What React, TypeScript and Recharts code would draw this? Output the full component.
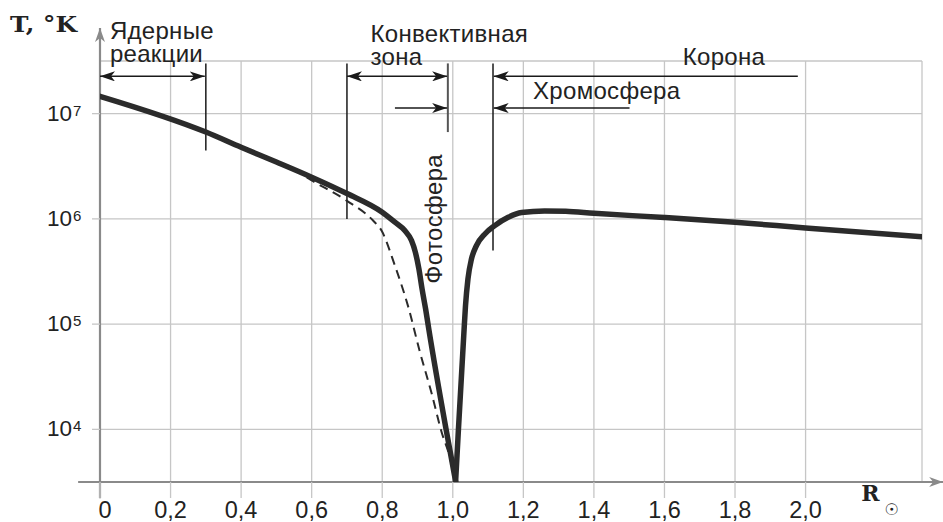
import React from "react";
import {
    LineChart,
    Line,
    XAxis,
    YAxis,
    CartesianGrid,
    ReferenceLine,
    ReferenceDot,
} from "recharts";

// temperature of the Sun (K) against distance from centre (solar radii)
const coreProfile = [
    { r: 0, t: 1.46e7 },
    { r: 0.3, t: 6.68e6 },
    { r: 0.4, t: 4.79e6 },
    { r: 0.5, t: 3.47e6 },
    { r: 0.6, t: 2.49e6 },
    { r: 0.7, t: 1.74e6 },
    { r: 0.8, t: 1.156e6 },
    { r: 0.836, t: 9.29e5 },
    { r: 0.864, t: 7.74e5 },
    { r: 0.883, t: 6.22e5 },
    { r: 0.894, t: 4.81e5 },
    { r: 0.904, t: 3.34e5 },
    { r: 0.913, t: 2.15e5 },
    { r: 0.923, t: 1.39e5 },
    { r: 0.932, t: 8.96e4 },
    { r: 0.981, t: 1.0e4 },
    { r: 1.008, t: 3.2e3 },
];

const atmosphereProfile = [
    { r: 1.008, t: 3.2e3 },
    { r: 1.016, t: 1.0e4 },
    { r: 1.031, t: 7.74e4 },
    { r: 1.036, t: 1.49e5 },
    { r: 1.043, t: 2.69e5 },
    { r: 1.053, t: 4.16e5 },
    { r: 1.067, t: 5.57e5 },
    { r: 1.091, t: 7.19e5 },
    { r: 1.119, t: 8.63e5 },
    { r: 1.157, t: 1.035e6 },
    { r: 1.195, t: 1.15e6 },
    { r: 1.26, t: 1.19e6 },
    { r: 1.32, t: 1.18e6 },
    { r: 1.4, t: 1.13e6 },
    { r: 1.6, t: 1.03e6 },
    { r: 1.8, t: 9.29e5 },
    { r: 2.0, t: 8.2e5 },
    { r: 2.33, t: 6.76e5 },
];

// alternative model (dashed)
const modelProfile = [
    { r: 0.55, t: 2.95e6 },
    { r: 0.6, t: 2.32e6 },
    { r: 0.699, t: 1.49e6 },
    { r: 0.774, t: 9.64e5 },
    { r: 0.798, t: 7.74e5 },
    { r: 0.836, t: 3.59e5 },
    { r: 0.873, t: 1.49e5 },
    { r: 0.907, t: 5.4e4 },
    { r: 0.94, t: 2.2e4 },
    { r: 0.968, t: 9.5e3 },
    { r: 0.992, t: 5.37e3 },
    { r: 1.006, t: 3.3e3 },
];

const xTicks = [0, 0.2, 0.4, 0.6, 0.8, 1.0, 1.2, 1.4, 1.6, 1.8, 2.0];
const yTicks = [1e4, 1e5, 1e6, 1e7];

// zone boundaries
const boundaries = [
    { r: 0.3, from: 4.47e6, to: 3.0e7, color: "#1a1a1a", width: 1.5 },
    { r: 0.7, from: 1.0e6, to: 3.0e7, color: "#1a1a1a", width: 1.5 },
    { r: 0.986, from: 6.68e6, to: 3.0e7, color: "#555", width: 2 },
    { r: 1.114, from: 5.0e5, to: 3.0e7, color: "#1a1a1a", width: 1.5 },
];

const zoneArrows = [
    { from: 0, to: 0.297, t: 2.26e7, both: true },
    { from: 0.7, to: 0.984, t: 2.26e7, both: true },
    { from: 0.836, to: 0.984, t: 1.13e7, both: false },
    { from: 1.978, to: 1.116, t: 2.26e7, both: false },
    { from: 1.501, to: 1.116, t: 1.13e7, both: false },
];

const zoneLabels = [
    { lines: ["Ядерные", "реакции"], r: 0.028, t: 5.15e7 },
    { lines: ["Конвективная", "зона"], r: 0.767, t: 4.81e7 },
    { lines: ["Корона"], r: 1.652, t: 2.88e7 },
    { lines: ["Хромосфера"], r: 1.2275, t: 1.37e7 },
];

const SANS = "'Liberation Sans', Arial, sans-serif";
const SERIF = "'DejaVu Serif', serif";
const INK = "#222";

function PowerTick({ x, y, payload }: any) {
    const exp = Math.round(Math.log10(payload.value));
    return (
        <g>
            <text x={x - 20} y={y + 7} textAnchor="end" fontSize={22.5} fill={INK} fontFamily={SANS}>
                10
            </text>
            <text x={x - 19} y={y + 2} fontSize={15} fill={INK} fontFamily={SANS}>
                {exp}
            </text>
        </g>
    );
}

function RadiusTick({ x, y, payload }: any) {
    const label = payload.value === 0 ? "0" : payload.value.toFixed(1).replace(".", ",");
    return (
        <text x={payload.value === 0 ? x + 5 : x} y={y + 20} textAnchor="middle" fontSize={23.5} fill={INK} fontFamily={SANS}>
            {label}
        </text>
    );
}

export default function App() {
    return (
        <div style={{ position: "absolute", left: 0, top: 0, width: 943, height: 522, background: "#fff" }}>
            <svg width={0} height={0} style={{ position: "absolute" }}>
                <defs>
                    <marker
                        id="tip"
                        viewBox="0 0 15 10"
                        refX={15}
                        refY={5}
                        markerWidth={15}
                        markerHeight={10}
                        markerUnits="userSpaceOnUse"
                        orient="auto-start-reverse"
                    >
                        <path d="M0,0 L15,5 L0,10 L4,5 Z" fill="#1a1a1a" />
                    </marker>
                    <marker
                        id="axisTip"
                        viewBox="0 0 14 10"
                        refX={14}
                        refY={5}
                        markerWidth={14}
                        markerHeight={10}
                        markerUnits="userSpaceOnUse"
                        orient="auto"
                    >
                        <path d="M0,0 L14,5 L0,10 L4,5 Z" fill="#8a8a8a" />
                    </marker>
                </defs>
            </svg>
            <LineChart width={943} height={522} margin={{ top: 61, right: 21, bottom: 0, left: 40 }}>
                <CartesianGrid stroke="#c6c6c6" strokeWidth={1.3} />
                <XAxis
                    type="number"
                    dataKey="r"
                    domain={[0, 2.33]}
                    allowDataOverflow
                    ticks={xTicks}
                    height={40}
                    axisLine={false}
                    tickSize={16}
                    tickMargin={0}
                    tickLine={{ stroke: "#c6c6c6", strokeWidth: 1.3 }}
                    tick={<RadiusTick />}
                    interval={0}
                />
                <YAxis
                    type="number"
                    dataKey="t"
                    scale="log"
                    domain={[3162.28, 31622777]}
                    allowDataOverflow
                    ticks={yTicks}
                    width={60}
                    axisLine={false}
                    tickSize={8}
                    tickMargin={0}
                    tickLine={{ stroke: "#c6c6c6", strokeWidth: 1.3 }}
                    tick={<PowerTick />}
                    interval={0}
                />

                {/* axes with arrowheads */}
                <ReferenceLine
                    ifOverflow="visible"
                    segment={[{ x: -0.062, y: 3162.28 }, { x: 2.39, y: 3162.28 }]}
                    shape={(p: any) => (
                        <line x1={p.x1} y1={p.y1} x2={p.x2} y2={p.y2} stroke="#8a8a8a" strokeWidth={2.2} markerEnd="url(#axisTip)" />
                    )}
                />
                <ReferenceLine
                    ifOverflow="visible"
                    segment={[{ x: 0, y: 2220 }, { x: 0, y: 6.5e7 }]}
                    shape={(p: any) => (
                        <line x1={p.x1} y1={p.y1} x2={p.x2} y2={p.y2} stroke="#8a8a8a" strokeWidth={2.2} markerEnd="url(#axisTip)" />
                    )}
                />

                {boundaries.map((b, i) => (
                    <ReferenceLine
                        key={"b" + i}
                        ifOverflow="visible"
                        segment={[{ x: b.r, y: b.from }, { x: b.r, y: b.to }]}
                        stroke={b.color}
                        strokeWidth={b.width}
                    />
                ))}
                {zoneArrows.map((a, i) => (
                    <ReferenceLine
                        key={"a" + i}
                        ifOverflow="visible"
                        segment={[{ x: a.from, y: a.t }, { x: a.to, y: a.t }]}
                        shape={(p: any) => (
                            <line
                                x1={p.x1}
                                y1={p.y1}
                                x2={p.x2}
                                y2={p.y2}
                                stroke="#1a1a1a"
                                strokeWidth={1.5}
                                markerEnd="url(#tip)"
                                markerStart={a.both ? "url(#tip)" : undefined}
                            />
                        )}
                    />
                ))}

                <Line
                    data={modelProfile}
                    dataKey="t"
                    type="monotone"
                    stroke="#2b2b2b"
                    strokeWidth={2}
                    strokeDasharray="9 6"
                    dot={false}
                    activeDot={false}
                    isAnimationActive={false}
                />
                <Line
                    data={coreProfile}
                    dataKey="t"
                    type="monotone"
                    stroke="#2b2b2b"
                    strokeWidth={5.5}
                    strokeLinecap="round"
                    dot={false}
                    activeDot={false}
                    isAnimationActive={false}
                />
                <Line
                    data={atmosphereProfile}
                    dataKey="t"
                    type="monotone"
                    stroke="#2b2b2b"
                    strokeWidth={5.5}
                    strokeLinecap="round"
                    dot={false}
                    activeDot={false}
                    isAnimationActive={false}
                />

                {zoneLabels.map((l, i) => (
                    <ReferenceDot
                        key={"l" + i}
                        x={l.r}
                        y={l.t}
                        ifOverflow="visible"
                        shape={(p: any) => (
                            <text x={p.cx} y={p.cy} fontSize={24} letterSpacing={0.3} fill={INK} fontFamily={SANS}>
                                {l.lines.map((s, j) => (
                                    <tspan key={j} x={p.cx} dy={j === 0 ? 0 : 23}>
                                        {s}
                                    </tspan>
                                ))}
                            </text>
                        )}
                    />
                ))}
                <ReferenceDot
                    x={0.969}
                    y={1.0e6}
                    ifOverflow="visible"
                    shape={(p: any) => (
                        <text
                            x={p.cx}
                            y={p.cy}
                            transform={`rotate(-90 ${p.cx} ${p.cy})`}
                            textAnchor="middle"
                            fontSize={24}
                            letterSpacing={0.3}
                            fill={INK}
                            fontFamily={SANS}
                        >
                            Фотосфера
                        </text>
                    )}
                />

                {/* axis titles */}
                <ReferenceDot
                    x={-0.255}
                    y={5.98e7}
                    ifOverflow="visible"
                    shape={(p: any) => (
                        <text
                            x={p.cx}
                            y={p.cy}
                            fontSize={23}
                            fontWeight="bold"
                            fill={INK}
                            fontFamily={SERIF}
                            textLength={67}
                            lengthAdjust="spacingAndGlyphs"
                        >
                            T, °K
                        </text>
                    )}
                />
                <ReferenceDot
                    x={2.158}
                    y={2075}
                    ifOverflow="visible"
                    shape={(p: any) => (
                        <text x={p.cx} y={p.cy} fontSize={22} fontWeight="bold" fill={INK} fontFamily={SERIF}>
                            R
                            <tspan dx={5} dy={14} fontSize={16} fontWeight="normal" fontFamily="'DejaVu Sans', sans-serif">
                                ☉
                            </tspan>
                        </text>
                    )}
                />
            </LineChart>
        </div>
    );
}
